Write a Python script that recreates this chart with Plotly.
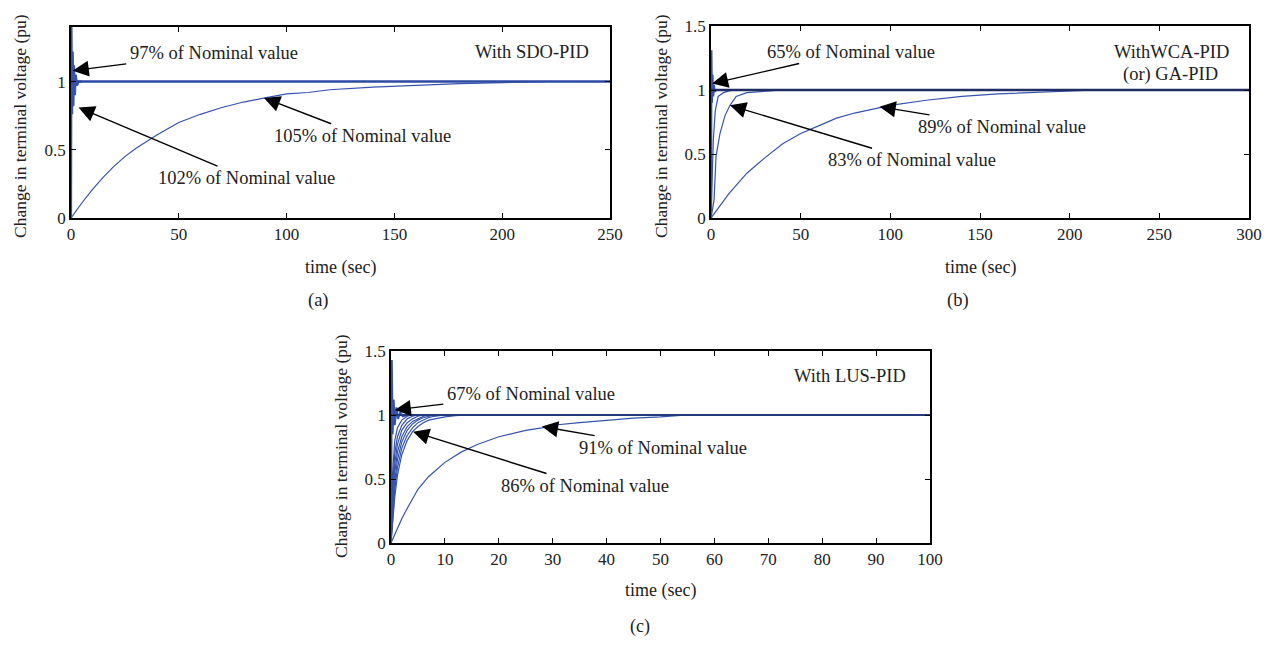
import plotly.graph_objects as go

# page is shown with the browser's default 8px body margin
OFF = 8
W, H = 1274 - 2 * OFF, 646 - 2 * OFF
FONT = "Liberation Serif"
BLUE = "#3553ad"
DARK = "#1f2d63"

# ---------------- data ----------------
# panel (a) SDO-PID
a_ref_t = [0, 250]
a_ref_v = [1, 1]
a_fast_t = [0, 0.2, 0.5, 0.8, 1.1, 1.4, 1.8, 2.2, 2.8, 3.5, 5]
a_fast_v = [0, 1.45, 0.76, 1.22, 0.82, 1.12, 0.90, 1.05, 0.97, 1.0, 1.0]
a_slow_t = [0, 5, 10, 15, 20, 25, 30, 40, 50, 60, 70, 80, 90, 100, 110, 120, 140, 160, 180, 200, 220]
a_slow_v = [0, 0.11, 0.21, 0.30, 0.38, 0.45, 0.51, 0.61, 0.70, 0.76, 0.81, 0.85, 0.88, 0.91, 0.92,
            0.94, 0.96, 0.975, 0.985, 0.993, 1.0]

# panel (b) WCA-PID / GA-PID
b_ref_t = [0, 300]
b_ref_v = [1, 1]
b_fast_t = [0, 0.2, 0.5, 0.8, 1.2, 1.6, 2, 3, 5]
b_fast_v = [0, 1.31, 0.90, 1.12, 0.95, 1.04, 0.99, 1.0, 1.0]
b_mid_t = [0, 0.6, 1.3, 2.4, 4, 7, 10.6, 15]
b_mid_v = [0, 0.25, 0.61, 0.84, 0.95, 0.98, 0.995, 1.0]
b_med_t = [0, 1.7, 2.8, 5, 7.8, 10.6, 14, 20, 35]
b_med_v = [0, 0.14, 0.48, 0.66, 0.80, 0.88, 0.95, 0.98, 0.995]
b_slow_t = [0, 10, 20, 30, 40, 50, 60, 70, 80, 90, 100, 120, 140, 160, 180, 200, 215]
b_slow_v = [0, 0.19, 0.35, 0.47, 0.58, 0.66, 0.72, 0.78, 0.82, 0.85, 0.88, 0.92, 0.95, 0.97,
            0.98, 0.99, 1.0]

# panel (c) LUS-PID
c_ref_t = [0, 100]
c_ref_v = [1, 1]
c_fast_t = [0, 0.15, 0.3, 0.5, 0.7, 1.0, 1.3, 1.7, 2.2, 3]
c_fast_v = [0, 1.43, 0.85, 1.12, 0.92, 1.06, 0.97, 1.02, 0.99, 1.0]
c_fam_t = [0, 0.3, 0.7, 1.2, 2, 3, 4, 5, 6, 7, 8, 10, 12, 14]
c_fam_v = [
    [0, 0.55, 0.80, 0.90, 0.96, 0.99, 1, 1, 1, 1, 1, 1, 1, 1],
    [0, 0.45, 0.70, 0.83, 0.92, 0.97, 0.99, 1, 1, 1, 1, 1, 1, 1],
    [0, 0.38, 0.62, 0.77, 0.88, 0.94, 0.97, 0.99, 1, 1, 1, 1, 1, 1],
    [0, 0.32, 0.55, 0.71, 0.83, 0.91, 0.95, 0.97, 0.99, 1, 1, 1, 1, 1],
    [0, 0.27, 0.48, 0.65, 0.79, 0.88, 0.93, 0.96, 0.98, 0.99, 1, 1, 1, 1],
    [0, 0.22, 0.42, 0.59, 0.74, 0.84, 0.90, 0.94, 0.96, 0.98, 0.99, 1, 1, 1],
    [0, 0.18, 0.36, 0.53, 0.69, 0.80, 0.87, 0.91, 0.94, 0.96, 0.97, 0.985, 0.995, 1],
]
c_slow_t = [0, 1, 2, 3, 5, 7, 10, 13, 16, 20, 25, 28, 30, 35, 40, 45, 50, 55]
c_slow_v = [0, 0.10, 0.19, 0.27, 0.42, 0.52, 0.63, 0.71, 0.77, 0.83, 0.88, 0.90, 0.92, 0.94,
            0.96, 0.975, 0.985, 1.0]

x_ticks_a = [0, 50, 100, 150, 200, 250]
x_ticks_b = [0, 50, 100, 150, 200, 250, 300]
x_ticks_c = [0, 10, 20, 30, 40, 50, 60, 70, 80, 90, 100]
y_ticks = [0, 0.5, 1, 1.5]
y_tick_text = ["0", "0.5", "1", "1.5"]

# ---------------- figure ----------------
fig = go.Figure()

def line(x, y, xa, ya, color=BLUE, width=1.2):
    fig.add_trace(go.Scatter(x=x, y=y, mode="lines", xaxis=xa, yaxis=ya,
                             line=dict(color=color, width=width), showlegend=False,
                             hoverinfo="skip"))

# (a)
line(a_slow_t, a_slow_v, "x", "y")
line(a_fast_t, a_fast_v, "x", "y", width=2.2)
line(a_ref_t, a_ref_v, "x", "y", color="#2c4aa3", width=2.5)
# (b)
line(b_slow_t, b_slow_v, "x2", "y2")
line(b_med_t, b_med_v, "x2", "y2")
line(b_mid_t, b_mid_v, "x2", "y2")
line(b_fast_t, b_fast_v, "x2", "y2", width=2.2)
line(b_ref_t, b_ref_v, "x2", "y2", color=DARK, width=2.5)
# (c)
line(c_slow_t, c_slow_v, "x3", "y3")
for v in c_fam_v:
    line(c_fam_t, v, "x3", "y3")
line(c_fast_t, c_fast_v, "x3", "y3", width=2.0)
line(c_ref_t, c_ref_v, "x3", "y3", color="#24397a", width=2.2)

def px(x0, x1):
    return [(x0 - OFF) / W, (x1 - OFF) / W]

def py(top, bottom):
    return [1 - (bottom - OFF) / H, 1 - (top - OFF) / H]

axis_common = dict(showline=True, linecolor="black", linewidth=1.6, mirror="ticks",
                   ticks="inside", ticklen=5, tickcolor="black", tickwidth=1.2,
                   showgrid=False, zeroline=False, automargin=False,
                   tickfont=dict(family=FONT, size=17, color="#222"))

fig.update_layout(
    template="none",
    width=W, height=H, margin=dict(l=0, r=0, t=0, b=0, pad=0), autosize=False,
    paper_bgcolor="white", plot_bgcolor="white",
    font=dict(family=FONT, size=17, color="#222"),
    xaxis=dict(domain=px(71, 610), range=[0, 250], tickvals=x_ticks_a, anchor="y", **axis_common),
    yaxis=dict(domain=py(27, 218), range=[0, 1.4], tickvals=y_ticks, ticktext=y_tick_text,
               anchor="x", **axis_common),
    xaxis2=dict(domain=px(711, 1249), range=[0, 300], tickvals=x_ticks_b, anchor="y2", **axis_common),
    yaxis2=dict(domain=py(26, 218), range=[0, 1.5], tickvals=y_ticks, ticktext=y_tick_text,
                anchor="x2", **axis_common),
    xaxis3=dict(domain=px(391, 930), range=[0, 100], tickvals=x_ticks_c, anchor="y3", **axis_common),
    yaxis3=dict(domain=py(351, 543), range=[0, 1.5], tickvals=y_ticks, ticktext=y_tick_text,
                anchor="x3", **axis_common),
)

TXT = dict(family=FONT, size=18.5, color="#222")
anns = []

def arrow(xr, yr, x, y, text, ax, ay):
    anns.append(dict(xref=xr, yref=yr, x=x, y=y, text=text, showarrow=True,
                     ax=ax, ay=ay, arrowhead=2, arrowsize=2.3, arrowwidth=1.4,
                     arrowcolor="black", font=TXT, standoff=0, startstandoff=2))

arrow("x", "y", 0.8, 1.08, "97% of Nominal value", 141, -18)
arrow("x", "y", 3.5, 0.81, "102% of Nominal value", 168, 71)
arrow("x", "y", 89.5, 0.88, "105% of Nominal value", 99, 38)
arrow("x2", "y2", 0.6, 1.05, "65% of Nominal value", 139, -32)
arrow("x2", "y2", 10.6, 0.88, "83% of Nominal value", 182, 55)
arrow("x2", "y2", 94, 0.87, "89% of Nominal value", 122, 20)
arrow("x3", "y3", 0.7, 1.04, "67% of Nominal value", 136, -16)
arrow("x3", "y3", 4.1, 0.87, "86% of Nominal value", 172, 54)
arrow("x3", "y3", 28, 0.91, "91% of Nominal value", 121, 21)

def label(xp, yp, text, size=18.5, xanchor="center", angle=0):
    anns.append(dict(xref="paper", yref="paper", x=(xp - OFF) / W, y=1 - (yp - OFF) / H,
                     text=text, showarrow=False, xanchor=xanchor, yanchor="middle",
                     textangle=angle, font=dict(family=FONT, size=size, color="#222")))

label(591, 52, "With SDO-PID", xanchor="right")
label(1231, 52, "WithWCA-PID", xanchor="right")
label(1220, 75, "(or) GA-PID", xanchor="right")
label(908, 376, "With LUS-PID", xanchor="right")

label(20, 126, "Change in terminal voltage (pu)", size=17.5, angle=-90)
label(661, 126, "Change in terminal voltage (pu)", size=17.5, angle=-90)
label(341, 446, "Change in terminal voltage (pu)", size=17.5, angle=-90)

label(340, 267, "time (sec)", size=18)
label(980, 267, "time (sec)", size=18)
label(660, 590, "time (sec)", size=18)

label(318, 300, "(a)", size=18.5)
label(958, 300, "(b)", size=18.5)
label(640, 626, "(c)", size=18)

fig.update_layout(annotations=anns)
fig.write_html("out.html")
